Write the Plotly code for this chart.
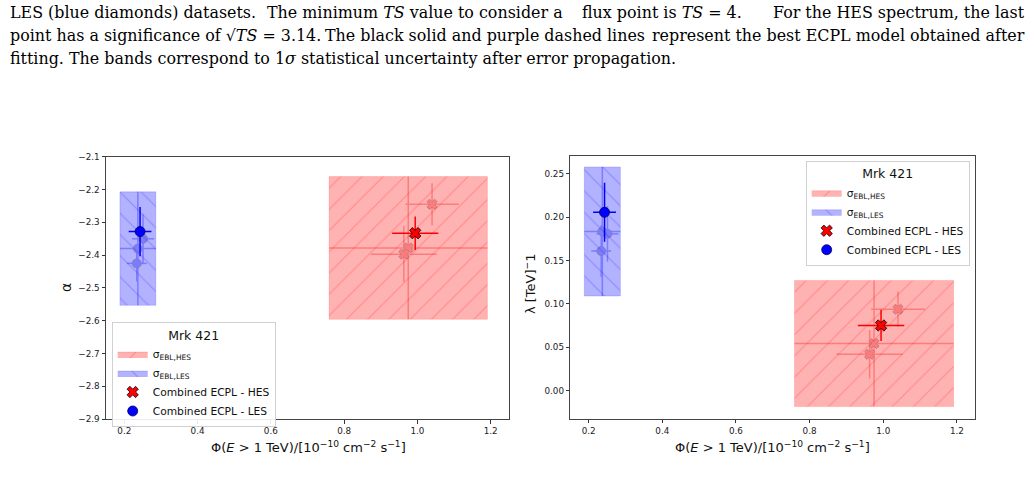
import plotly.graph_objects as go

# ---------------- data ----------------
# combined ECPL best fits
hes_flux, hes_flux_err = 0.994, 0.063
les_flux, les_flux_err = 0.243, 0.031
hes_alpha, hes_alpha_err = -2.333, 0.051
les_alpha, les_alpha_err = -2.328, 0.075
hes_lam, hes_lam_err = 0.0752, 0.018
les_lam, les_lam_err = 0.2056, 0.034

# individual EBL-model fits (faint points)
hes_ebl_flux = [1.040, 0.975, 0.963]
hes_ebl_flux_err = [0.073, 0.216, 0.090]
hes_ebl_alpha = [-2.245, -2.378, -2.397]
hes_ebl_alpha_err = [0.064, 0.2175, 0.085]
hes_ebl_lam = [0.0939, 0.0544, 0.042]
hes_ebl_lam_err = [0.0205, 0.0727, 0.028]

les_ebl_flux = [0.251, 0.237, 0.234]
les_ebl_flux_err = [0.030, 0.049, 0.027]
les_ebl_alpha = [-2.350, -2.380, -2.425]
les_ebl_alpha_err = [0.075, 0.173, 0.055]
les_ebl_lam = [0.1808, 0.1835, 0.161]
les_ebl_lam_err = [0.032, 0.0744, 0.030]

# sigma_EBL bands (center index 1 of EBL lists)
EBL_CENTER = 1

x_ticks = [0.2, 0.4, 0.6, 0.8, 1.0, 1.2]
alpha_ticks = [-2.9, -2.8, -2.7, -2.6, -2.5, -2.4, -2.3, -2.2, -2.1]
lam_ticks = [0.0, 0.05, 0.10, 0.15, 0.20, 0.25]

caption_lines = [
    ["LES (blue diamonds) datasets.",
     "The minimum <i>TS</i> value to consider a",
     "flux point is <i>TS</i> = 4.",
     "For the HES spectrum, the last"],
    ["point has a significance of √<i>TS</i> = 3.14.",
     "The black solid and purple dashed lines",
     "represent the best ECPL model obtained after"],
    ["fitting. The bands correspond to 1<i>σ</i> statistical uncertainty after error propagation."],
]

# ---------------- figure ----------------
W, H = 1034, 480
fig = go.Figure()

RED_FILL = "rgba(255,0,0,0.30)"
BLUE_FILL = "rgba(0,0,255,0.30)"


def box(cx, sx, cy, sy):
    return ([cx - sx, cx + sx, cx + sx, cx - sx, cx - sx],
            [cy - sy, cy - sy, cy + sy, cy + sy, cy - sy])


panels = [
    dict(xa="x", ya="y", legend="legend",
         hes_y=hes_ebl_alpha, hes_ye=hes_ebl_alpha_err,
         les_y=les_ebl_alpha, les_ye=les_ebl_alpha_err,
         hes_m=(hes_alpha, hes_alpha_err), les_m=(les_alpha, les_alpha_err)),
    dict(xa="x2", ya="y2", legend="legend2",
         hes_y=hes_ebl_lam, hes_ye=hes_ebl_lam_err,
         les_y=les_ebl_lam, les_ye=les_ebl_lam_err,
         hes_m=(hes_lam, hes_lam_err), les_m=(les_lam, les_lam_err)),
]

for p in panels:
    c = EBL_CENTER
    # HES band
    bx, by = box(hes_ebl_flux[c], hes_ebl_flux_err[c], p["hes_y"][c], p["hes_ye"][c])
    fig.add_trace(go.Scatter(
        x=bx, y=by, mode="lines", fill="toself", fillcolor=RED_FILL,
        line=dict(color="rgba(255,0,0,0.15)", width=1),
        fillpattern=dict(shape="/", size=15, solidity=0.07,
                         fgcolor="rgba(255,0,0,0.45)", fillmode="overlay"),
        name="σ<sub>EBL,HES</sub>", xaxis=p["xa"], yaxis=p["ya"],
        legend=p["legend"], legendrank=1))
    # LES band
    bx, by = box(les_ebl_flux[c], les_ebl_flux_err[c], p["les_y"][c], p["les_ye"][c])
    fig.add_trace(go.Scatter(
        x=bx, y=by, mode="lines", fill="toself", fillcolor=BLUE_FILL,
        line=dict(color="rgba(0,0,255,0.15)", width=1),
        fillpattern=dict(shape="\\", size=15, solidity=0.07,
                         fgcolor="rgba(0,0,255,0.45)", fillmode="overlay"),
        name="σ<sub>EBL,LES</sub>", xaxis=p["xa"], yaxis=p["ya"],
        legend=p["legend"], legendrank=2))
    # faint EBL-model points
    fig.add_trace(go.Scatter(
        x=hes_ebl_flux, y=p["hes_y"], mode="markers", opacity=0.3,
        marker=dict(symbol="x", size=9, color="red", line=dict(color="black", width=0.8)),
        error_x=dict(type="data", array=hes_ebl_flux_err, color="red", thickness=1.5, width=0),
        error_y=dict(type="data", array=p["hes_ye"], color="red", thickness=1.5, width=0),
        showlegend=False, xaxis=p["xa"], yaxis=p["ya"]))
    fig.add_trace(go.Scatter(
        x=les_ebl_flux, y=p["les_y"], mode="markers", opacity=0.3,
        marker=dict(symbol="circle", size=9, color="blue", line=dict(color="black", width=0.8)),
        error_x=dict(type="data", array=les_ebl_flux_err, color="blue", thickness=1.5, width=0),
        error_y=dict(type="data", array=p["les_ye"], color="blue", thickness=1.5, width=0),
        showlegend=False, xaxis=p["xa"], yaxis=p["ya"]))
    # combined points
    fig.add_trace(go.Scatter(
        x=[hes_flux], y=[p["hes_m"][0]], mode="markers",
        marker=dict(symbol="x", size=10, color="red", line=dict(color="black", width=0.8)),
        error_x=dict(type="data", array=[hes_flux_err], color="red", thickness=1.5, width=0),
        error_y=dict(type="data", array=[p["hes_m"][1]], color="red", thickness=1.5, width=0),
        name="Combined ECPL - HES", xaxis=p["xa"], yaxis=p["ya"],
        legend=p["legend"], legendrank=3))
    fig.add_trace(go.Scatter(
        x=[les_flux], y=[p["les_m"][0]], mode="markers",
        marker=dict(symbol="circle", size=10, color="blue", line=dict(color="#000060", width=0.8)),
        error_x=dict(type="data", array=[les_flux_err], color="blue", thickness=1.5, width=0),
        error_y=dict(type="data", array=[p["les_m"][1]], color="blue", thickness=1.5, width=0),
        name="Combined ECPL - LES", xaxis=p["xa"], yaxis=p["ya"],
        legend=p["legend"], legendrank=4))

axis_common = dict(showgrid=False, zeroline=False, ticks="outside", ticklen=3.5,
                   tickwidth=0.8, tickcolor="#333", showline=True, linecolor="#444",
                   linewidth=1, mirror=True,
                   tickfont=dict(family="DejaVu Sans", size=8.8, color="#222"))


def fmt(v, d):
    s = f"{v:.{d}f}"
    return s.replace("-", "−")


legend_common = dict(
    bgcolor="rgba(255,255,255,0.9)", bordercolor="#d0d0d0", borderwidth=1,
    font=dict(family="DejaVu Sans", size=10.7, color="#111"),
    title=dict(text="Mrk 421", side="top center",
               font=dict(family="DejaVu Sans", size=12.5, color="#111")),
    xanchor="left", yanchor="top", itemwidth=30, tracegroupgap=0,
    traceorder="normal",
)

fig.update_layout(
    width=W, height=H, margin=dict(l=0, r=0, t=0, b=0),
    paper_bgcolor="white", plot_bgcolor="white",
    xaxis=dict(domain=[106 / W, 509 / W], range=[0.15, 1.25], anchor="y",
               tickmode="array", tickvals=x_ticks, ticktext=[fmt(v, 1) for v in x_ticks],
               **axis_common),
    yaxis=dict(domain=[(H - 423) / H, (H - 155) / H], range=[-2.9, -2.1], anchor="x",
               tickmode="array", tickvals=alpha_ticks, ticktext=[fmt(v, 1) for v in alpha_ticks],
               **axis_common),
    xaxis2=dict(domain=[570.3 / W, 975.3 / W], range=[0.15, 1.25], anchor="y2",
                tickmode="array", tickvals=x_ticks, ticktext=[fmt(v, 1) for v in x_ticks],
                **axis_common),
    yaxis2=dict(domain=[(H - 422.3) / H, (H - 154) / H], range=[-0.032, 0.2707], anchor="x2",
                tickmode="array", tickvals=lam_ticks, ticktext=[fmt(v, 2) for v in lam_ticks],
                **axis_common),
    legend=dict(x=111.7 / W, y=(H - 324) / H, **legend_common),
    legend2=dict(x=805.7 / W, y=(H - 159.3) / H, **legend_common),
    showlegend=True,
)

# axis titles
xt = "Φ(<i>E</i> > 1 TeV)/[10<sup>−10</sup> cm<sup>−2</sup> s<sup>−1</sup>]"
ann_font = dict(family="DejaVu Sans", size=13, color="#111")
fig.add_annotation(x=308 / W, y=(H - 451) / H, xref="paper", yref="paper", text=xt,
                   showarrow=False, font=ann_font, xanchor="center", yanchor="middle")
fig.add_annotation(x=772 / W, y=(H - 451) / H, xref="paper", yref="paper", text=xt,
                   showarrow=False, font=ann_font, xanchor="center", yanchor="middle")
fig.add_annotation(x=66 / W, y=(H - 289) / H, xref="paper", yref="paper", text="α",
                   textangle=-90, showarrow=False, font=dict(family="DejaVu Sans", size=14, color="#111"),
                   xanchor="center", yanchor="middle")
fig.add_annotation(x=530 / W, y=(H - 285) / H, xref="paper", yref="paper",
                   text="λ [TeV]<sup>−</sup>1", textangle=-90, showarrow=False,
                   font=ann_font, xanchor="center", yanchor="middle")

# caption (approximately justified, pieces placed at the reference word positions)
cap_font = dict(family="DejaVu Serif", size=15.9, color="#000")
line_y = [7.5, 31.0, 54.5]
piece_x = [[(8, "left"), (265, "left"), (580, "left"), (1027, "right")],
           [(8, "left"), (485, "center"), (1027, "right")],
           [(8, "left")]]
for li, pieces in enumerate(caption_lines):
    for (px, anchor), txt in zip(piece_x[li], pieces):
        fig.add_annotation(x=px / W, y=(H - line_y[li]) / H, xref="paper", yref="paper",
                           text=txt, showarrow=False, font=cap_font,
                           xanchor=anchor, yanchor="middle")

fig.write_html("out.html")
